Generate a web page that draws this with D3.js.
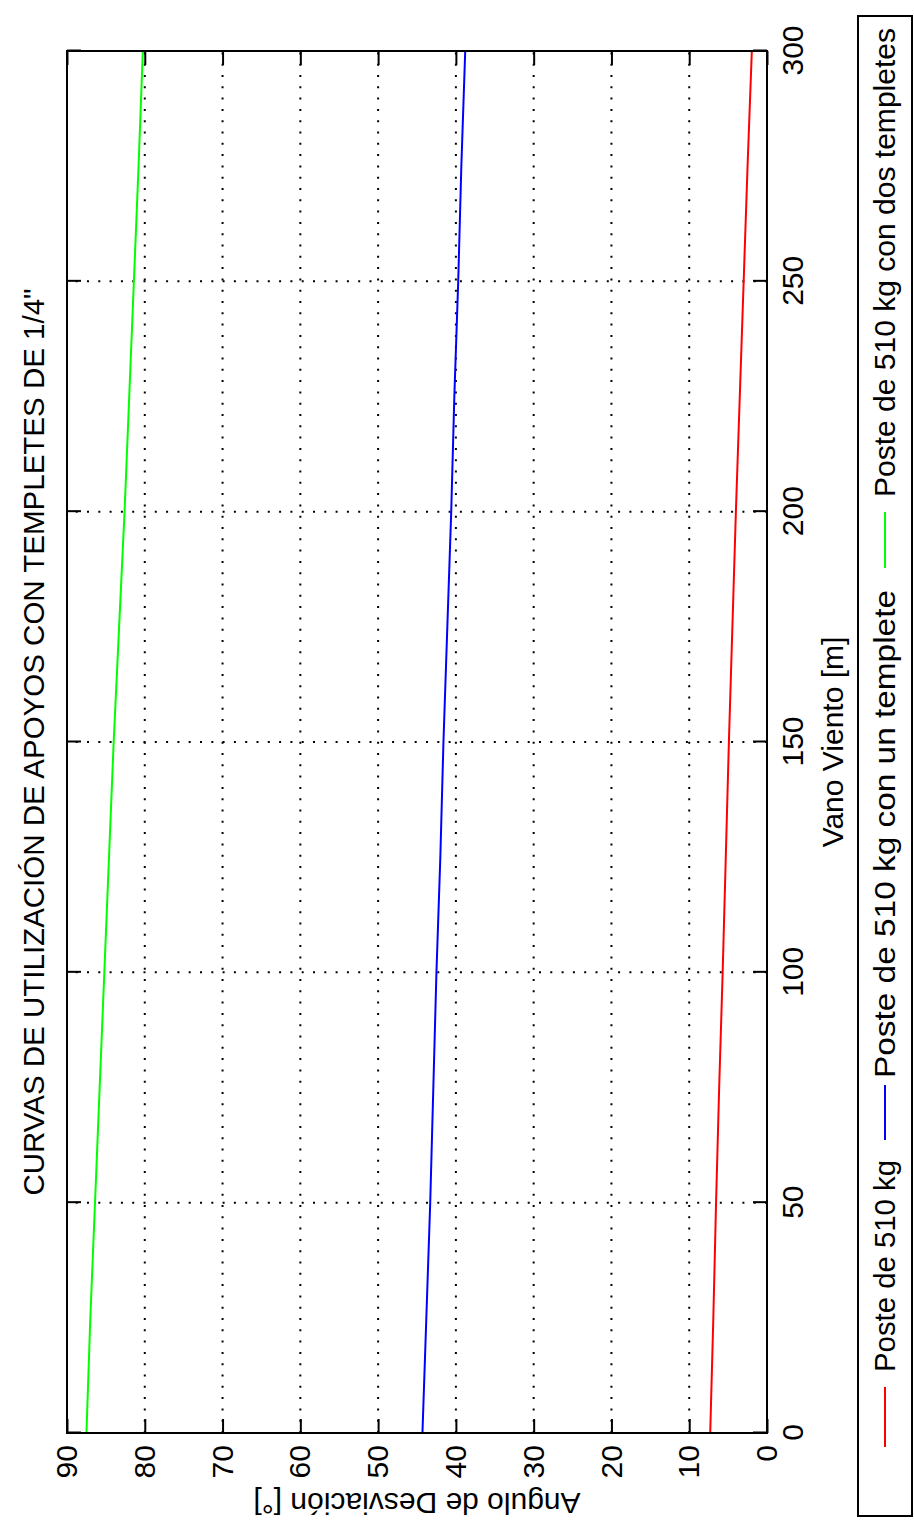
<!DOCTYPE html>
<html>
<head>
<meta charset="utf-8">
<script src="https://cdn.jsdelivr.net/npm/d3@7"></script>
<style>
  html, body { margin: 0; padding: 0; background: #fff; }
  svg { display: block; }
  text { font-family: "Liberation Sans", Arial, Helvetica, sans-serif; fill: #000; }
</style>
</head>
<body>
<svg id="chart" width="914" height="1532"></svg>
<script>
// ---- data ----
const vano = [0, 25, 50, 75, 100, 125, 150, 175, 200, 225, 250, 275, 300];
const poste510 = [7.3, 6.9, 6.55, 6.15, 5.7, 5.3, 4.9, 4.45, 4.0, 3.5, 3.0, 2.5, 1.95];
const posteUnTemplete = [44.3, 43.8, 43.3, 42.9, 42.5, 42.0, 41.6, 41.1, 40.6, 40.2, 39.7, 39.3, 38.8];
const posteDosTempletes = [87.5, 87.0, 86.4, 85.8, 85.2, 84.6, 84.0, 83.3, 82.6, 82.0, 81.4, 80.8, 80.25];
const seriesNames = ["Poste de 510 kg", "Poste de 510 kg con un templete", "Poste de 510 kg con dos templetes"];
const seriesColors = ["#ff0000", "#0000ff", "#00ff00"];
const xTicks = [0, 50, 100, 150, 200, 250, 300];
const yTicks = [0, 10, 20, 30, 40, 50, 60, 70, 80, 90];
const titleText = "CURVAS DE UTILIZACIÓN DE APOYOS CON TEMPLETES DE 1/4\"";
const xLabel = "Vano Viento [m]";
const yLabel = "Angulo de Desviación [°]";

// ---- layout (landscape figure, rotated -90deg onto the portrait page) ----
const W = 1532, H = 914;
const plot = { left: 99, right: 1481, top: 67, bottom: 767 };

const svg = d3.select("#chart");
svg.append("rect").attr("width", 914).attr("height", 1532).attr("fill", "#fff");
const g = svg.append("g").attr("transform", `translate(0,${W}) rotate(-90)`);

const x = d3.scaleLinear().domain([0, 300]).range([plot.left, plot.right]);
const y = d3.scaleLinear().domain([0, 90]).range([plot.bottom, plot.top]);

// grid
const grid = g.append("g").attr("stroke", "#000").attr("stroke-width", 2)
  .attr("stroke-dasharray", "2,9.3");
grid.selectAll("line.gx").data(xTicks.filter(d => d > 0 && d < 300)).join("line")
  .attr("x1", d => x(d)).attr("x2", d => x(d))
  .attr("y1", plot.bottom).attr("y2", plot.top);
grid.selectAll("line.gy").data(yTicks.filter(d => d > 0 && d < 90)).join("line")
  .attr("x1", plot.left).attr("x2", plot.right)
  .attr("y1", d => y(d)).attr("y2", d => y(d));

// series
const allSeries = [poste510, posteUnTemplete, posteDosTempletes];
const line = d3.line().x(d => x(d[0])).y(d => y(d[1]));
allSeries.forEach((vals, i) => {
  g.append("path")
    .attr("d", line(vano.map((v, j) => [v, vals[j]])))
    .attr("fill", "none")
    .attr("stroke", seriesColors[i])
    .attr("stroke-width", 2);
});

// axes (ticks inside, box on all sides)
const tickLen = 14;
const axB = g.append("g").attr("transform", `translate(0,${plot.bottom})`)
  .call(d3.axisBottom(x).tickValues(xTicks).tickSizeInner(-tickLen).tickSizeOuter(0).tickPadding(12));
const axT = g.append("g").attr("transform", `translate(0,${plot.top})`)
  .call(d3.axisTop(x).tickValues(xTicks).tickSizeInner(-tickLen).tickSizeOuter(0).tickFormat(""));
const axL = g.append("g").attr("transform", `translate(${plot.left},0)`)
  .call(d3.axisLeft(y).tickValues(yTicks).tickSizeInner(-tickLen).tickSizeOuter(0).tickPadding(12));
const axR = g.append("g").attr("transform", `translate(${plot.right},0)`)
  .call(d3.axisRight(y).tickValues(yTicks).tickSizeInner(-tickLen).tickSizeOuter(0).tickFormat(""));
[axB, axT, axL, axR].forEach(a => {
  a.select(".domain").remove();
  a.selectAll(".tick line").attr("stroke", "#000").attr("stroke-width", 2);
  a.selectAll("text").attr("font-size", 30).attr("font-family", null).attr("fill", "#000");
});
axB.selectAll("text").attr("dy", null).attr("y", 36);
axL.selectAll("text").attr("x", -12);

// box
g.append("rect")
  .attr("x", plot.left).attr("y", plot.top)
  .attr("width", plot.right - plot.left).attr("height", plot.bottom - plot.top)
  .attr("fill", "none").attr("stroke", "#000").attr("stroke-width", 2);

// title and labels
g.append("text").attr("x", (plot.left + plot.right) / 2).attr("y", 44)
  .attr("text-anchor", "middle").attr("font-size", 29.5).text(titleText);
g.append("text").attr("x", (plot.left + plot.right) / 2).attr("y", 843)
  .attr("text-anchor", "middle").attr("font-size", 30).text(xLabel);
g.append("text").attr("transform", `translate(39,${(plot.top + plot.bottom) / 2}) rotate(-90)`)
  .attr("text-anchor", "middle").attr("font-size", 30).text(yLabel);

// legend
const legBox = { x0: 16, x1: 1516, y0: 858, y1: 912 };
g.append("rect").attr("x", legBox.x0).attr("y", legBox.y0)
  .attr("width", legBox.x1 - legBox.x0).attr("height", legBox.y1 - legBox.y0)
  .attr("fill", "#fff").attr("stroke", "#000").attr("stroke-width", 2);
const legCy = (legBox.y0 + legBox.y1) / 2;
const legLines = [[85, 145], [392, 447], [964, 1020]];
const legTexts = [[160, 372], [454, 942], [1035, 1504]];
seriesNames.forEach((name, i) => {
  g.append("line").attr("x1", legLines[i][0]).attr("x2", legLines[i][1])
    .attr("y1", legCy).attr("y2", legCy)
    .attr("stroke", seriesColors[i]).attr("stroke-width", 2);
  g.append("text").attr("x", legTexts[i][0]).attr("y", legCy).attr("dy", "0.35em")
    .attr("font-size", 29)
    .attr("textLength", legTexts[i][1] - legTexts[i][0])
    .attr("lengthAdjust", "spacingAndGlyphs")
    .text(name);
});
</script>
</body>
</html>
